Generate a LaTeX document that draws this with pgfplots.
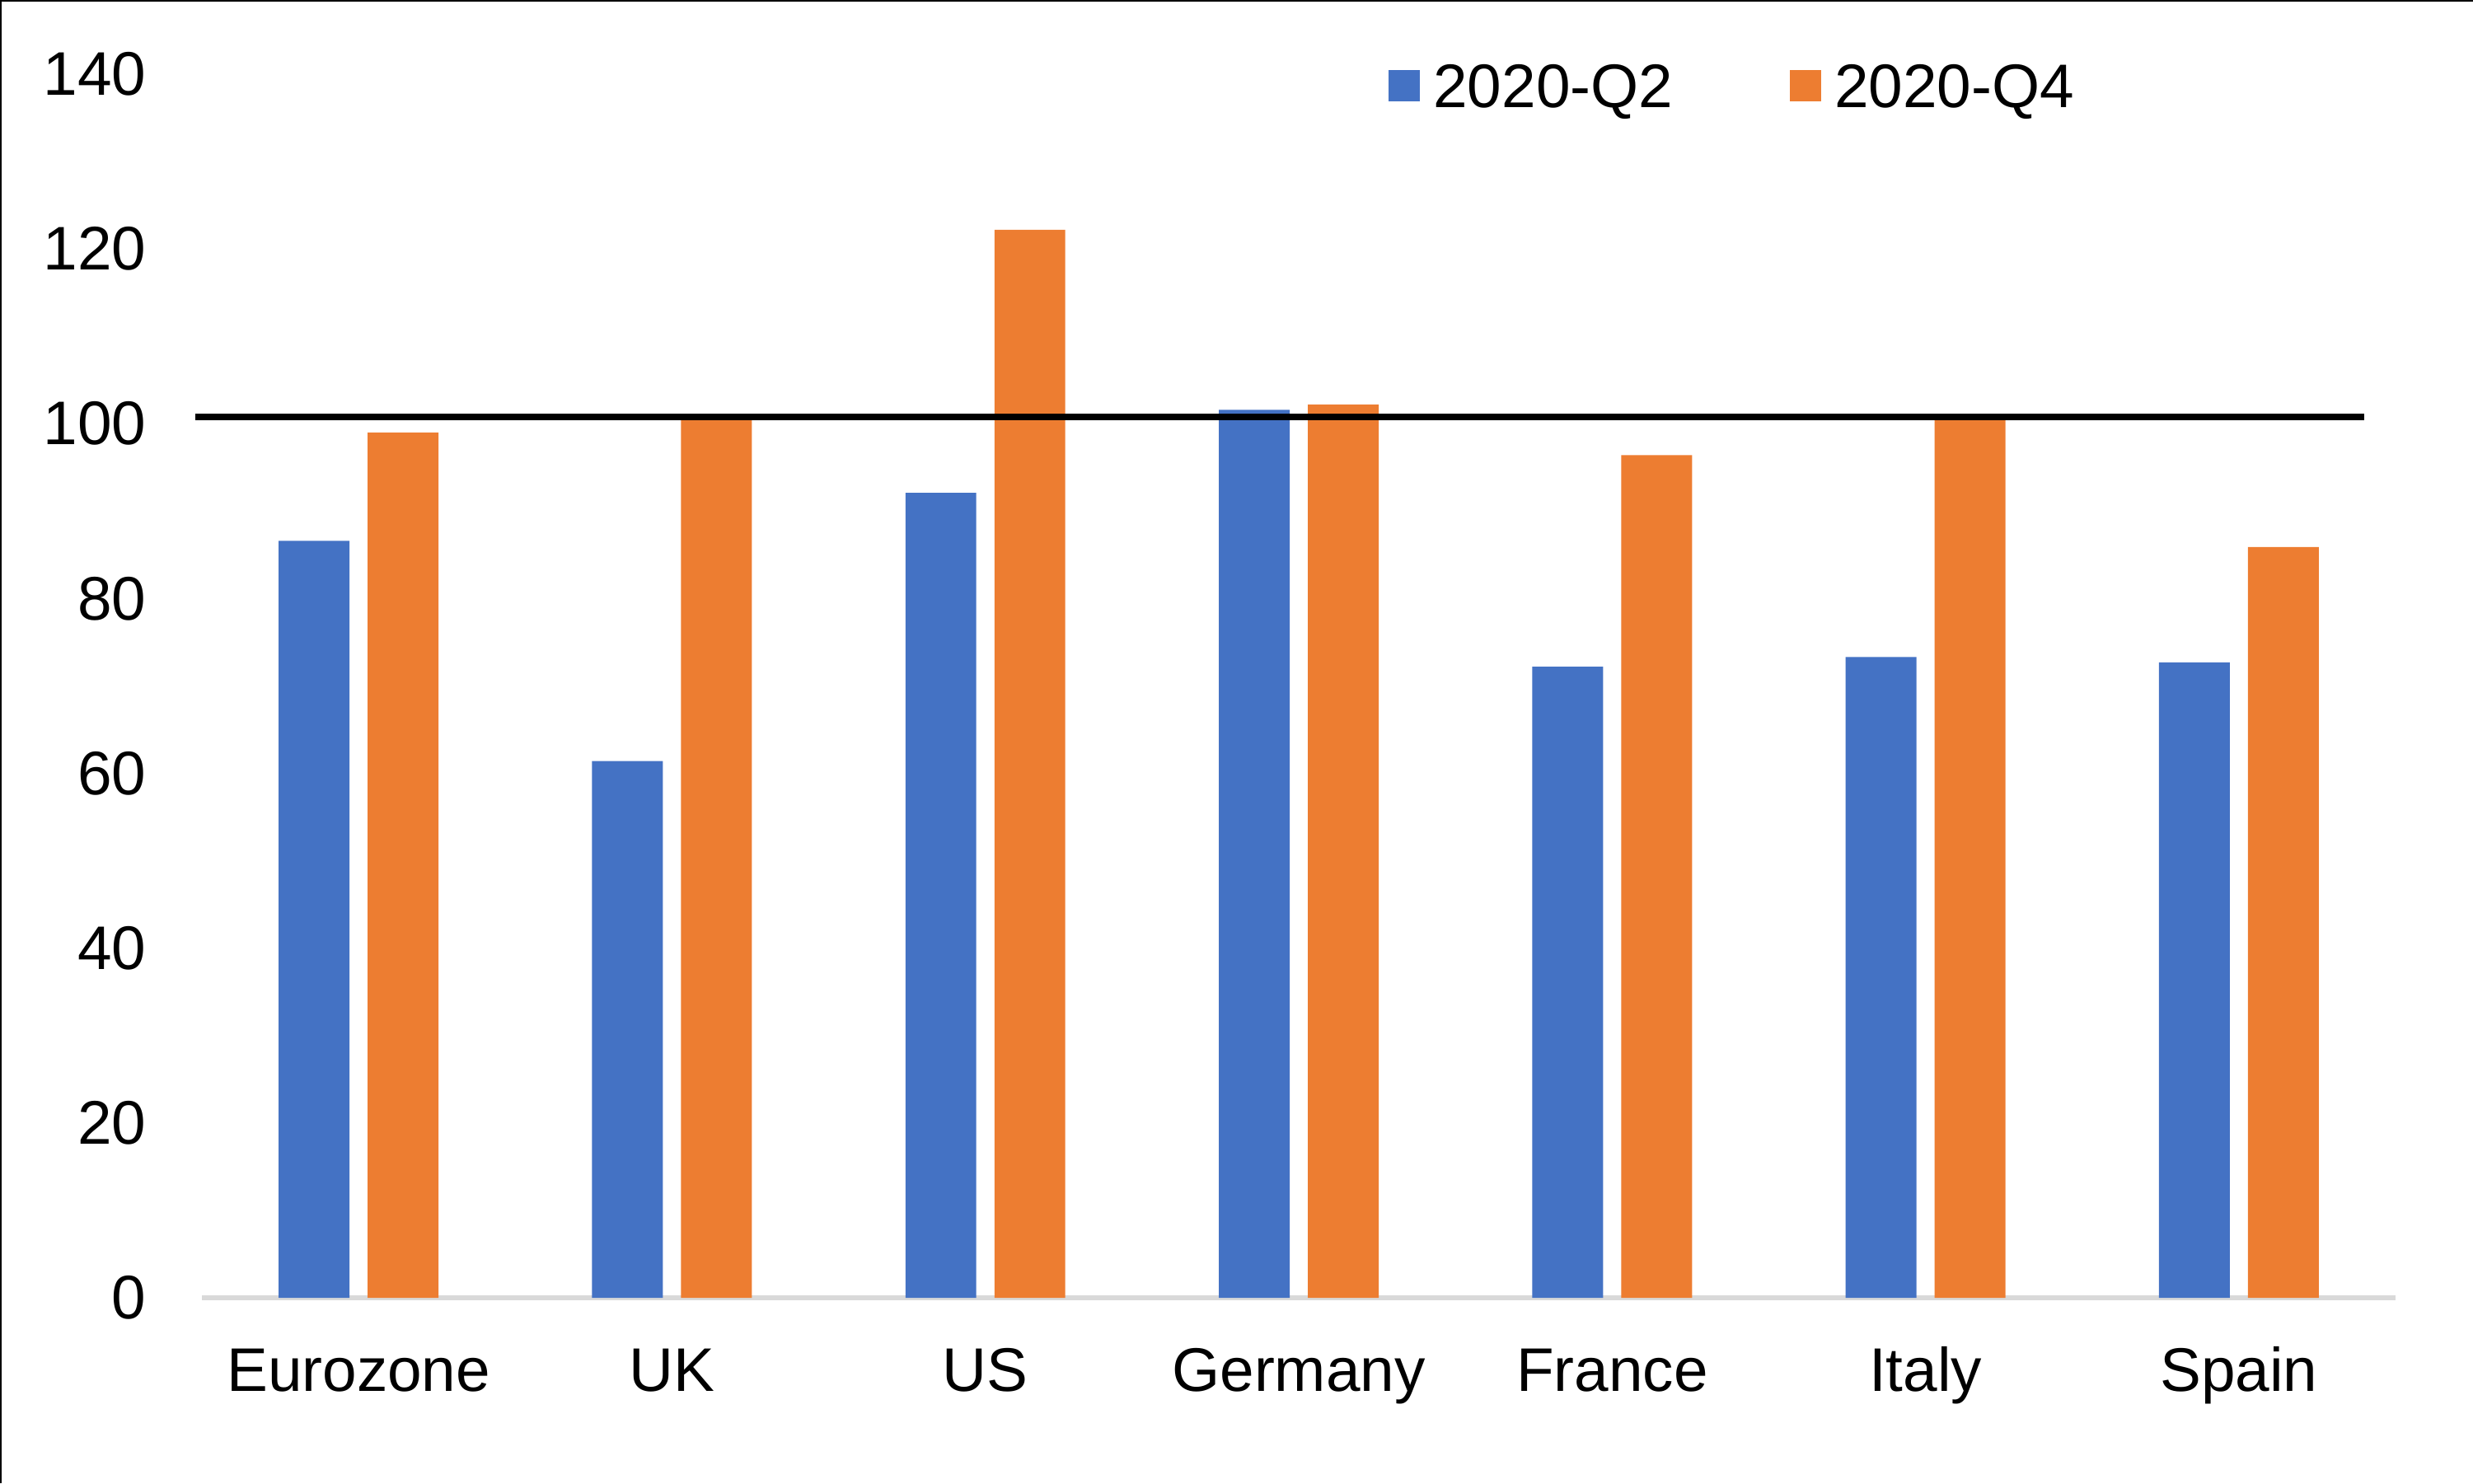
\documentclass[border=0pt]{standalone}
\usepackage{fontspec}
\setmainfont{Liberation Sans}
\usepackage{pgfplots}
\pgfplotsset{compat=1.18}

\definecolor{qblue}{HTML}{4472C4}
\definecolor{qorange}{HTML}{ED7D31}
\definecolor{axgray}{HTML}{D9D9D9}

\begin{document}
\begin{tikzpicture}
\path[use as bounding box] (0,0) rectangle (720.24bp,432bp);
% thin frame on the left and top edges
\draw[line width=0.6bp] (0.3bp,0) -- (0.3bp,431.7bp) -- (720.24bp,431.7bp);
\begin{axis}[
  at={(58.8bp,54bp)}, anchor=south west,
  scale only axis,
  width=638.9bp, height=356.4bp,
  ybar,
  bar width=0.226,
  xmin=-0.5, xmax=6.5,
  ymin=0, ymax=140,
  ytick={0,20,...,140},
  xtick=data,
  xticklabels={Eurozone,UK,US,Germany,France,Italy,Spain},
  major tick length=0pt,
  axis x line*=bottom,
  axis y line*=left,
  y axis line style={draw=none},
  x axis line style={draw=axgray, line width=1.3bp, -},
  /pgf/number format/assume math mode=true,
  tick label style={font=\fontsize{18}{21.6}\selectfont},
  yticklabel style={anchor=east, inner sep=0pt, xshift=-16bp},
  xticklabel style={anchor=base, inner sep=0pt, yshift=-27.2bp},
  clip=false,
  legend columns=2,
  legend style={draw=none, fill=none, inner sep=0pt, outer sep=0pt,
    at={(rel axis cs:0.541,0.973)}, anchor=south west,
    font=\fontsize{18}{21.6}\selectfont,
    nodes={inner sep=0pt, text depth=0pt},
    /tikz/every odd column/.append style={column sep=3.9bp},
    /tikz/every even column/.append style={column sep=34bp}},
  legend image code/.code={\fill[#1] (0bp,-4.56bp) rectangle (9.12bp,4.56bp);},
]
\addplot[fill=qblue, draw=none, bar shift=-0.142] coordinates {
  (0,86.6) (1,61.4) (2,92.1) (3,101.6) (4,72.2) (5,73.3) (6,72.7)};
\addplot[fill=qorange, draw=none, bar shift=0.142] coordinates {
  (0,99.0) (1,100.9) (2,122.2) (3,102.2) (4,96.4) (5,100.4) (6,85.9)};
\addplot[sharp plot, black, line width=1.9bp, forget plot] coordinates {
  (-0.52,100.8) (6.4,100.8)};
\legend{2020-Q2,2020-Q4}
\end{axis}
\end{tikzpicture}
\end{document}
